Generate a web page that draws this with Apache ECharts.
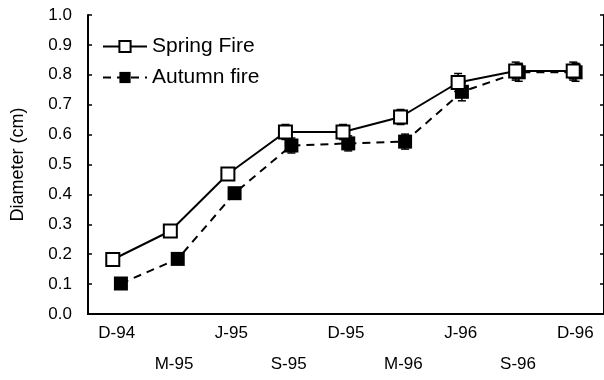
<!DOCTYPE html>
<html>
<head>
<meta charset="utf-8">
<script src="https://cdn.jsdelivr.net/npm/echarts@6/dist/echarts.min.js"></script>
<style>html,body{margin:0;padding:0;background:#fff}#c{width:604px;height:380px}</style>
</head>
<body>
<div id="c"></div>
<script>
var categories = ['D-94','M-95','J-95','S-95','D-95','M-96','J-96','S-96','D-96'];
var springFire = [0.185, 0.28, 0.47, 0.61, 0.61, 0.66, 0.775, 0.813, 0.813];
var springErr  = [0.004, 0.006, 0.012, 0.025, 0.025, 0.025, 0.03, 0.03, 0.03];
var autumnFire = [0.105, 0.187, 0.406, 0.565, 0.572, 0.578, 0.744, 0.809, 0.809];
var autumnErr  = [0.004, 0.006, 0.016, 0.025, 0.025, 0.025, 0.03, 0.03, 0.03];
var yTicks = [0, 0.1, 0.2, 0.3, 0.4, 0.5, 0.6, 0.7, 0.8, 0.9, 1.0];

var FONT = 'Liberation Sans, Arial, Helvetica, sans-serif';

function errData(vals, errs) {
  return vals.map(function (v, i) { return [i, v - errs[i], v + errs[i]]; });
}
function errRender(params, api) {
  var x = api.value(0);
  var lo = api.coord([x, api.value(1)]);
  var hi = api.coord([x, api.value(2)]);
  var w = 4;
  var st = { stroke: '#000', lineWidth: 1.5 };
  return {
    type: 'group',
    children: [
      { type: 'line', shape: { x1: hi[0], y1: hi[1], x2: lo[0], y2: lo[1] }, style: st },
      { type: 'line', shape: { x1: hi[0] - w, y1: hi[1], x2: hi[0] + w, y2: hi[1] }, style: st },
      { type: 'line', shape: { x1: lo[0] - w, y1: lo[1], x2: lo[0] + w, y2: lo[1] }, style: st }
    ]
  };
}

var gridW = 518, gridH = 300, gridTop = 15, gridLeft = 88;
var hiddenX = function (g) {
  return { type: 'category', data: categories, gridIndex: g, show: false, boundaryGap: true };
};
var hiddenY = function (g) {
  return { type: 'value', gridIndex: g, min: 0, max: 1, interval: 0.1, show: false, splitLine: { show: false } };
};

var chart = echarts.init(document.getElementById('c'), null, { renderer: 'canvas' });
chart.setOption({
  animation: false,
  backgroundColor: '#fff',
  textStyle: { fontFamily: FONT },
  grid: [
    { left: gridLeft, top: gridTop, width: gridW, height: gridH },
    { left: gridLeft - 4, top: gridTop, width: gridW, height: gridH },
    { left: gridLeft + 4.5, top: gridTop, width: gridW, height: gridH }
  ],
  legend: {
    orient: 'vertical',
    left: 97,
    top: 31,
    itemWidth: 44,
    itemHeight: 14,
    itemGap: 10,
    data: ['Spring Fire', 'Autumn fire'],
    textStyle: { fontFamily: FONT, fontSize: 21, color: '#000' }
  },
  xAxis: [
    {
      type: 'category', data: categories, gridIndex: 0, position: 'bottom', boundaryGap: true,
      axisLine: { lineStyle: { color: '#000', width: 2 } },
      axisTick: { inside: true, length: 4, alignWithLabel: true, lineStyle: { color: '#000', width: 1.5 } },
      axisLabel: {
        interval: 0, margin: 4, color: '#000', fontSize: 17, fontFamily: FONT, lineHeight: 31,
        formatter: function (v, i) { return i % 2 ? '\n' + v : v; }
      }
    },
    {
      type: 'category', data: categories, gridIndex: 0, position: 'top', boundaryGap: true,
      axisLine: { lineStyle: { color: '#000', width: 2 } },
      axisTick: { inside: true, length: 4, alignWithLabel: true, lineStyle: { color: '#000', width: 1.5 } },
      axisLabel: { show: false }
    },
    hiddenX(1), hiddenX(2)
  ],
  yAxis: [
    {
      type: 'value', gridIndex: 0, min: 0, max: 1, interval: 0.1, position: 'left',
      name: 'Diameter (cm)', nameLocation: 'middle', nameGap: 61, nameRotate: 90,
      nameTextStyle: { fontSize: 18, color: '#000', fontFamily: FONT },
      axisLine: { show: true, lineStyle: { color: '#000', width: 2 } },
      axisTick: { show: true, inside: true, length: 4, lineStyle: { color: '#000', width: 1.5 } },
      axisLabel: {
        color: '#000', fontSize: 17, fontFamily: FONT, margin: 16,
        formatter: function (v) { return v.toFixed(1); }
      },
      splitLine: { show: false }
    },
    {
      type: 'value', gridIndex: 0, min: 0, max: 1, interval: 0.1, position: 'right',
      axisLine: { show: true, lineStyle: { color: '#000', width: 2 } },
      axisTick: { show: true, inside: true, length: 4, lineStyle: { color: '#000', width: 1.5 } },
      axisLabel: { show: false },
      splitLine: { show: false }
    },
    hiddenY(1), hiddenY(2)
  ],
  series: [
    {
      type: 'custom', xAxisIndex: 2, yAxisIndex: 2, renderItem: errRender,
      data: errData(springFire, springErr), z: 2, silent: true
    },
    {
      type: 'custom', xAxisIndex: 3, yAxisIndex: 3, renderItem: errRender,
      data: errData(autumnFire, autumnErr), z: 2, silent: true
    },
    {
      name: 'Autumn fire', type: 'line', xAxisIndex: 3, yAxisIndex: 3,
      data: autumnFire, symbol: 'rect', symbolSize: 14,
      lineStyle: { color: '#000', width: 2, type: [8, 6] },
      itemStyle: { color: '#000', borderColor: '#000', borderWidth: 0 },
      z: 3
    },
    {
      name: 'Spring Fire', type: 'line', xAxisIndex: 2, yAxisIndex: 2,
      data: springFire, symbol: 'rect', symbolSize: 13,
      lineStyle: { color: '#000', width: 2, type: 'solid' },
      itemStyle: { color: '#fff', borderColor: '#000', borderWidth: 2 },
      z: 4
    }
  ]
});
</script>
</body>
</html>
